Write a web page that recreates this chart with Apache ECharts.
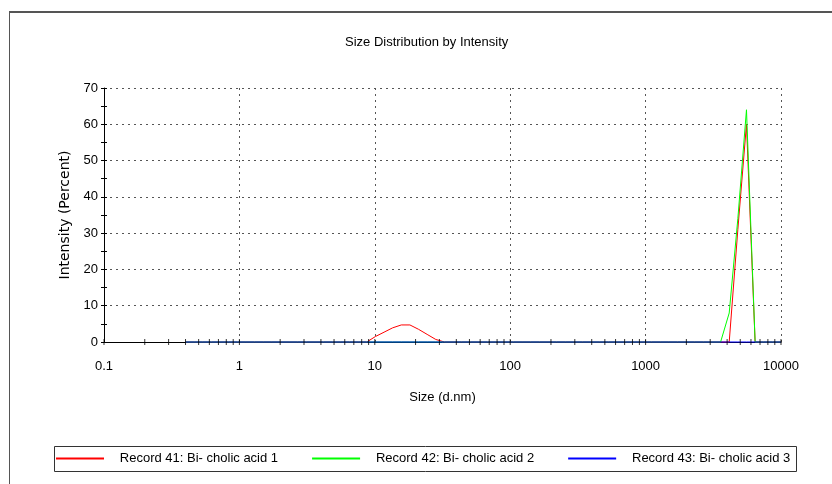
<!DOCTYPE html>
<html>
<head>
<meta charset="utf-8">
<script src="https://cdn.jsdelivr.net/npm/echarts@6/dist/echarts.min.js"></script>
<style>
  html, body { margin: 0; padding: 0; background: #fff; }
  #chart { width: 832px; height: 484px; }
</style>
</head>
<body>
<div id="chart"></div>
<script>
// size classes (d.nm)
var sizes = [
  0.4, 0.4632, 0.5365, 0.6213, 0.7195, 0.8332, 0.9649, 1.117, 1.294, 1.499,
  1.736, 2.01, 2.328, 2.696, 3.122, 3.615, 4.187, 4.849, 5.615, 6.503,
  7.531, 8.721, 10.1, 11.7, 13.54, 15.69, 18.17, 21.04, 24.36, 28.21,
  32.67, 37.84, 43.82, 50.75, 58.77, 68.06, 78.82, 91.28, 105.7, 122.4,
  141.8, 164.2, 190.1, 220.2, 255.0, 295.3, 342.0, 396.1, 458.7, 531.2,
  615.1, 712.4, 825.0, 955.4, 1106, 1281, 1484, 1718, 1990, 2305,
  2669, 3091, 3580, 4145, 4801, 5560, 6439, 7456, 8635, 10000
];
// intensity (%)
var record41 = [
  0, 0, 0, 0, 0, 0, 0, 0, 0, 0,
  0, 0, 0, 0, 0, 0, 0, 0, 0, 0,
  0, 0, 1.5, 2.7, 3.9, 4.7, 4.7, 3.5, 2.1, 0.7,
  0, 0, 0, 0, 0, 0, 0, 0, 0, 0,
  0, 0, 0, 0, 0, 0, 0, 0, 0, 0,
  0, 0, 0, 0, 0, 0, 0, 0, 0, 0,
  0, 0, 0, 0, 31, 60, 0, 0, 0, 0
];
var record42 = [
  0, 0, 0, 0, 0, 0, 0, 0, 0, 0,
  0, 0, 0, 0, 0, 0, 0, 0, 0, 0,
  0, 0, 0, 0, 0, 0, 0, 0, 0, 0,
  0, 0, 0, 0, 0, 0, 0, 0, 0, 0,
  0, 0, 0, 0, 0, 0, 0, 0, 0, 0,
  0, 0, 0, 0, 0, 0, 0, 0, 0, 0,
  0, 0, 0, 8, 34, 64, 0, 0, 0, 0
];
var record43 = [
  0, 0, 0, 0, 0, 0, 0, 0, 0, 0,
  0, 0, 0, 0, 0, 0, 0, 0, 0, 0,
  0, 0, 0, 0, 0, 0, 0, 0, 0, 0,
  0, 0, 0, 0, 0, 0, 0, 0, 0, 0,
  0, 0, 0, 0, 0, 0, 0, 0, 0, 0,
  0, 0, 0, 0, 0, 0, 0, 0, 0, 0,
  0, 0, 0, 0, 0, 0, 0, 0, 0, 0
];
var seriesNames = ['Record 41: Bi- cholic acid 1', 'Record 42: Bi- cholic acid 2', 'Record 43: Bi- cholic acid 3'];
var seriesColors = ['#ff0000', '#00ff00', '#0000ff'];
// x axis tick marks (log minor ticks)
var tickDecades = [0.1, 1, 10, 100, 1000];
var tickSteps = [1, 2, 3, 4, 5, 6, 7, 8, 9];

var font = '"Liberation Sans", Arial, sans-serif';

function pairs(ys) {
  return sizes.map(function (s, i) { return [s, ys[i]]; });
}

var xTicks = [];
tickDecades.forEach(function (d) {
  tickSteps.forEach(function (k) { xTicks.push([+(d * k).toPrecision(3), 0]); });
});
xTicks.push([10000, 0]);

var myChart = echarts.init(document.getElementById('chart'));
var dotted = { color: '#555', width: 1, type: [2, 4] };

function lineSeries(i, ys) {
  return {
    name: seriesNames[i], type: 'line', data: pairs(ys), showSymbol: false, clip: false,
    color: seriesColors[i], lineStyle: { width: 1, color: seriesColors[i] }
  };
}

var option = {
  backgroundColor: '#fff',
  animation: false,
  title: {
    text: 'Size Distribution by Intensity',
    left: 340,
    top: 31,
    textStyle: { fontFamily: font, fontSize: 13, fontWeight: 'normal', color: '#000' }
  },
  graphic: [
    { type: 'line', shape: { x1: 9, y1: 12, x2: 832, y2: 12 }, style: { stroke: '#555', lineWidth: 2 } },
    { type: 'line', shape: { x1: 9.5, y1: 12, x2: 9.5, y2: 484 }, style: { stroke: '#555', lineWidth: 1 } },
    { type: 'rect', shape: { x: 54.5, y: 446.5, width: 742, height: 25 }, style: { fill: 'none', stroke: '#333', lineWidth: 1 } }
  ],
  legend: {
    left: 56,
    top: 452,
    padding: 0,
    itemGap: 34,
    itemWidth: 48,
    itemHeight: 2,
    icon: 'rect',
    formatter: '   {name}',
    textStyle: { fontFamily: font, fontSize: 13, color: '#000' },
    data: seriesNames
  },
  grid: { left: 104, right: 51, top: 88, bottom: 142 },
  xAxis: {
    type: 'log',
    logBase: 10,
    min: 0.1,
    max: 10000,
    name: 'Size (d.nm)',
    nameLocation: 'middle',
    nameGap: 49,
    nameTextStyle: { fontFamily: font, fontSize: 13, color: '#000' },
    axisLine: { lineStyle: { color: '#000', width: 1 } },
    axisTick: { show: false },
    axisLabel: {
      margin: 18, fontFamily: font, fontSize: 13, color: '#000',
      formatter: function (v) { return String(v); }
    },
    splitLine: { show: true, lineStyle: dotted }
  },
  yAxis: [{
    type: 'value',
    min: 0,
    max: 70,
    interval: 10,
    name: 'Intensity (Percent)',
    nameLocation: 'middle',
    nameGap: 28,
    nameTextStyle: { fontFamily: '"DejaVu Sans", sans-serif', fontSize: 14, color: '#000' },
    axisLine: { show: true, lineStyle: { color: '#000', width: 1 } },
    axisTick: { show: true, length: 3, lineStyle: { color: '#000' } },
    minorTick: { show: true, splitNumber: 2, length: 3, lineStyle: { color: '#000' } },
    axisLabel: { margin: 6, fontFamily: font, fontSize: 13, color: '#000' },
    splitLine: { show: true, lineStyle: dotted }
  }, {
    type: 'value',
    min: 0,
    max: 70,
    interval: 10,
    position: 'left',
    axisLine: { show: false },
    axisTick: { show: true, inside: true, length: 3, lineStyle: { color: '#000' } },
    minorTick: { show: true, splitNumber: 2, length: 3, lineStyle: { color: '#000' } },
    axisLabel: { show: false },
    splitLine: { show: false }
  }],
  series: [
    lineSeries(0, record41),
    lineSeries(1, record42),
    lineSeries(2, record43),
    {
      type: 'scatter', data: xTicks, symbol: 'rect', symbolSize: [1, 6],
      itemStyle: { color: '#000' }, silent: true, z: 5
    }
  ]
};
myChart.setOption(option);
</script>
</body>
</html>
